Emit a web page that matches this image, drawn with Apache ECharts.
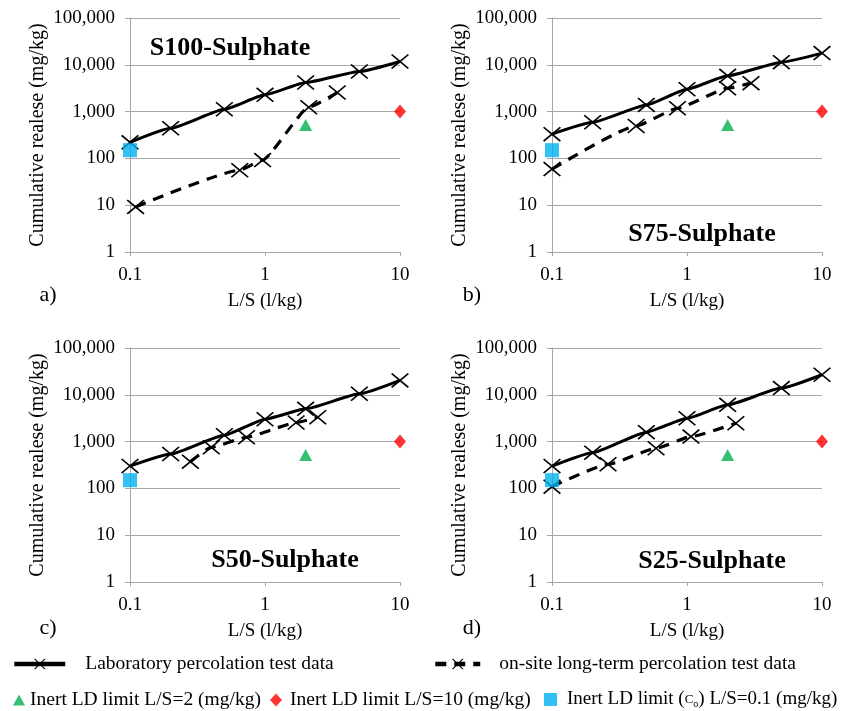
<!DOCTYPE html>
<html>
<head>
<meta charset="utf-8">
<script src="https://cdn.jsdelivr.net/npm/echarts@6/dist/echarts.min.js"></script>
<style>
html,body{margin:0;padding:0;background:#fff}
#main{width:856px;height:711px}
</style>
</head>
<body>
<div id="main"></div>
<script>
// L/S values of the laboratory test (same for all panels)
var labX = [0.1, 0.2, 0.5, 1, 2, 5, 10];
var labA = [220, 440, 1120, 2280, 4180, 7200, 11800];
var labB = [330, 590, 1390, 3010, 5810, 11400, 17800];
var labC = [300, 545, 1370, 3010, 5010, 10500, 20300];
var labD = [300, 580, 1590, 3160, 6100, 13900, 26800];

// on-site long-term test
var siteAx = [0.11, 0.65, 0.96, 2.11, 3.43];
var siteAy = [9.2, 56, 92, 1240, 2550];
var siteBx = [0.1, 0.42, 0.85, 2.0, 2.98];
var siteBy = [59, 493, 1180, 3160, 4050];
var siteCx = [0.28, 0.40, 0.73, 1.70, 2.46];
var siteCy = [373, 756, 1240, 2550, 3320];
var siteDx = [0.1, 0.26, 0.59, 1.07, 2.30];
var siteDy = [109, 327, 720, 1280, 2470];

// inert landfill limits
var limit2 = [2, 520];
var limit10 = [10, 1000];
var limitC0 = [0.1, 150];

var panelTitles = ['S100-Sulphate', 'S75-Sulphate', 'S50-Sulphate', 'S25-Sulphate'];
var panelLetters = ['a)', 'b)', 'c)', 'd)'];

var NAME_LAB = 'Laboratory percolation test data';
var NAME_SITE = 'on-site long-term percolation test data';
var NAME_L2 = 'Inert LD limit L/S=2 (mg/kg)';
var NAME_L10 = 'Inert LD limit L/S=10 (mg/kg)';
var NAME_C0 = 'Inert LD limit (C0) L/S=0.1 (mg/kg)';

var FONT = '"Liberation Serif", "Times New Roman", serif';
var CROSS = 'path://M0,0.7 L0.7,0 L10,9.3 L9.3,10 Z M9.3,0 L10,0.7 L0.7,10 L0,9.3 Z';

function pairs(xs, ys) {
    return xs.map(function (x, i) { return [x, ys[i]]; });
}

var labs = [labA, labB, labC, labD];
var sites = [[siteAx, siteAy], [siteBx, siteBy], [siteCx, siteCy], [siteDx, siteDy]];

var grids = [
    {left: 130, top: 18, width: 270, height: 234},
    {left: 552, top: 18, width: 270, height: 234},
    {left: 130, top: 348, width: 270, height: 234},
    {left: 552, top: 348, width: 270, height: 234}
];

var xAxes = [], yAxes = [], series = [], graphics = [];
var titlePos = [[230, 48], [702, 234], [285, 560], [712, 561]];
var letterPos = [[48, 295], [472, 295], [48, 628], [472, 628]];

grids.forEach(function (g, i) {
    xAxes.push({
        gridIndex: i, type: 'log', logBase: 10, min: 0.1, max: 10,
        name: 'L/S (l/kg)', nameLocation: 'middle', nameGap: 40,
        nameTextStyle: {fontFamily: FONT, fontSize: 19, color: '#000'},
        axisLine: {lineStyle: {color: '#a6a6a6', width: 1}},
        axisTick: {show: true, length: 4, lineStyle: {color: '#a6a6a6'}},
        axisLabel: {fontFamily: FONT, fontSize: 19, color: '#000', margin: 14,
            formatter: function (v) { return String(+v.toFixed(1)); }},
        splitLine: {show: false}
    });
    yAxes.push({
        gridIndex: i, type: 'log', logBase: 10, min: 1, max: 100000,
        name: 'Cumulative realese (mg/kg)', nameLocation: 'middle', nameGap: 82,
        nameTextStyle: {fontFamily: FONT, fontSize: 20, color: '#000'},
        axisLine: {show: true, lineStyle: {color: '#a6a6a6', width: 1}},
        axisTick: {show: true, length: 5, lineStyle: {color: '#a6a6a6'}},
        axisLabel: {fontFamily: FONT, fontSize: 19, color: '#000', margin: 15,
            formatter: function (v) { return Math.round(v).toLocaleString('en-US'); }},
        splitLine: {show: true, lineStyle: {color: '#a6a6a6', width: 1}}
    });

    series.push({
        name: NAME_LAB, type: 'line', xAxisIndex: i, yAxisIndex: i,
        data: pairs(labX, labs[i]),
        smooth: 0.15, smoothMonotone: 'x',
        symbol: CROSS, symbolSize: [18, 15],
        itemStyle: {color: '#000'},
        lineStyle: {color: '#000', width: 3},
        z: 3
    });
    series.push({
        name: NAME_SITE, type: 'line', xAxisIndex: i, yAxisIndex: i,
        data: pairs(sites[i][0], sites[i][1]),
        smooth: 0.15, smoothMonotone: 'x',
        symbol: CROSS, symbolSize: [18, 15],
        itemStyle: {color: '#000'},
        lineStyle: {color: '#000', width: 3.2, type: [11, 8]},
        z: 3
    });
    series.push({
        name: NAME_L2, type: 'scatter', xAxisIndex: i, yAxisIndex: i,
        data: [limit2], symbol: 'triangle', symbolSize: [13, 12],
        itemStyle: {color: '#00b050'}, z: 4
    });
    series.push({
        name: NAME_L10, type: 'scatter', xAxisIndex: i, yAxisIndex: i,
        data: [limit10], symbol: 'diamond', symbolSize: [12, 14],
        itemStyle: {color: '#ff0000'}, z: 4
    });
    series.push({
        name: NAME_C0, type: 'scatter', xAxisIndex: i, yAxisIndex: i,
        data: [limitC0], symbol: 'rect', symbolSize: [14, 14],
        itemStyle: {color: '#00b0f0'}, z: 5
    });

    graphics.push({
        type: 'text', x: titlePos[i][0], y: titlePos[i][1],
        style: {text: panelTitles[i], fill: '#000', font: 'bold 26px ' + FONT,
            textAlign: 'center', textVerticalAlign: 'middle'}
    });
    graphics.push({
        type: 'text', x: letterPos[i][0], y: letterPos[i][1],
        style: {text: panelLetters[i], fill: '#000', font: '22px ' + FONT,
            textAlign: 'center', textVerticalAlign: 'middle'}
    });
});

function oneLegend(name, left, top, w, h, pad, size) {
    return {
        data: [name], left: left, top: top, itemWidth: w, itemHeight: h,
        padding: 0, selectedMode: false,
        lineStyle: {width: 4.5},
        textStyle: {fontFamily: FONT, fontSize: size, color: '#000', padding: [0, 0, 0, pad],
            rich: {sub: {fontFamily: FONT, fontSize: 10, color: '#000', verticalAlign: 'bottom', padding: [6, 0, 0, 0]},
                   c: {fontFamily: FONT, fontSize: 13, color: '#000'}}},
        formatter: function (n) {
            return n === NAME_C0 ? 'Inert LD limit ({c|C}{sub|o}) L/S=0.1 (mg/kg)' : n;
        }
    };
}

var chart = echarts.init(document.getElementById('main'));
chart.setOption({
    backgroundColor: '#fff',
    animation: false,
    grid: grids,
    xAxis: xAxes,
    yAxis: yAxes,
    legend: [
        oneLegend(NAME_LAB, 12, 654, 51, 14, 15, 19.5),
        oneLegend(NAME_SITE, 433, 654, 45, 14, 14, 19.5),
        oneLegend(NAME_L2, 13, 690, 12, 11, 0, 19.5),
        oneLegend(NAME_L10, 270, 690, 12, 13, 3, 19.5),
        oneLegend(NAME_C0, 544, 690, 13, 13, 5, 19)
    ],
    series: series,
    graphic: graphics
});
</script>
</body>
</html>
